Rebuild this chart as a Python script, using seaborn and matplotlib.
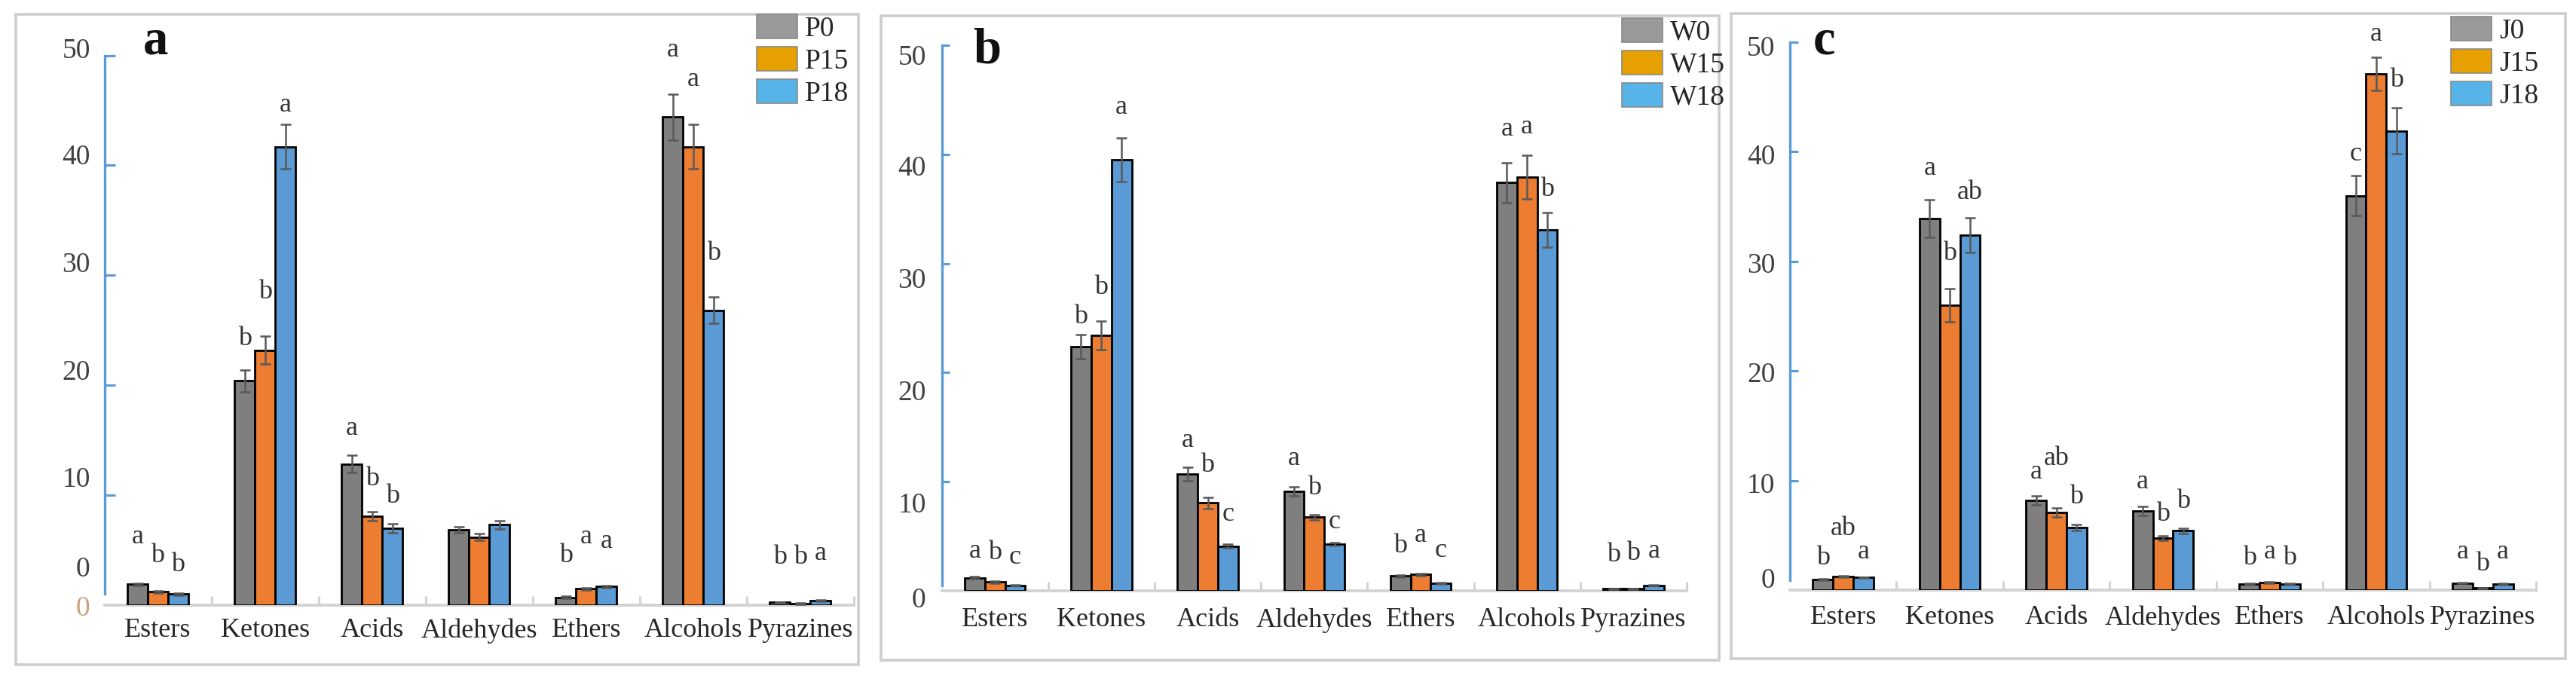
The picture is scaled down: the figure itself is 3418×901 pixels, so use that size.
import matplotlib
matplotlib.use("Agg")
import numpy as np
import pandas as pd
import seaborn as sns
import matplotlib.pyplot as plt
from matplotlib.patches import Patch, Rectangle
from matplotlib.transforms import offset_copy

# ---------------- data ----------------
categories = ["Esters", "Ketones", "Acids", "Aldehydes", "Ethers", "Alcohols", "Pyrazines"]

groups_a = ["P0", "P15", "P18"]
a_0 = [1.9, 20.4, 12.85, 6.85, 0.7, 44.4, 0.25]
a_15 = [1.2, 23.2, 8.1, 6.2, 1.5, 41.7, 0.15]
a_18 = [1.0, 41.7, 7.0, 7.3, 1.7, 26.8, 0.4]
a_0_err = [0.1, 1.0, 0.8, 0.3, 0.1, 2.1, 0.05]
a_15_err = [0.1, 1.3, 0.4, 0.3, 0.1, 2.0, 0.05]
a_18_err = [0.1, 2.0, 0.4, 0.4, 0.1, 1.2, 0.05]
a_0_sig = ["a", "b", "a", "", "b", "a", "b"]
a_15_sig = ["b", "b", "b", "", "a", "a", "b"]
a_18_sig = ["b", "a", "b", "", "a", "b", "a"]
a_0_sig_y = [6.2, 24.2, 16.1, 0, 4.5, 50.5, 4.35]
a_15_sig_y = [4.5, 28.5, 11.5, 0, 6.2, 47.8, 4.35]
a_18_sig_y = [3.7, 45.5, 9.9, 0, 5.8, 32.0, 4.7]
a_ytick_labels = ["50", "40", "30", "20", "10", "0", "0"]
a_ytick_at = [50.7, 41.0, 31.2, 21.4, 11.7, 3.5, -0.07]

groups_b = ["W0", "W15", "W18"]
b_0 = [1.2, 22.4, 10.7, 9.1, 1.35, 37.4, 0.2]
b_15 = [0.8, 23.4, 8.05, 6.75, 1.5, 37.9, 0.2]
b_18 = [0.5, 39.5, 4.1, 4.3, 0.7, 33.1, 0.5]
b_0_err = [0.1, 1.1, 0.6, 0.4, 0.1, 1.8, 0.03]
b_15_err = [0.1, 1.3, 0.5, 0.25, 0.1, 2.0, 0.03]
b_18_err = [0.05, 2.0, 0.15, 0.15, 0.05, 1.6, 0.05]
b_0_sig = ["a", "b", "a", "a", "b", "a", "b"]
b_15_sig = ["b", "b", "b", "b", "a", "a", "b"]
b_18_sig = ["c", "a", "c", "c", "c", "b", "a"]
b_0_sig_y = [3.6, 25.1, 13.8, 12.1, 4.1, 42.3, 3.25]
b_15_sig_y = [3.5, 27.8, 11.5, 9.4, 5.1, 42.5, 3.45]
b_18_sig_y = [3.05, 44.3, 7.0, 6.3, 3.7, 36.8, 3.6]
b_ytick_labels = ["50", "40", "30", "20", "10", "0"]
b_ytick_at = [49.1, 39.0, 28.7, 18.4, 8.1, -0.6]

groups_c = ["J0", "J15", "J18"]
c_0 = [0.95, 33.9, 8.2, 7.2, 0.55, 36.0, 0.65]
c_15 = [1.25, 26.0, 7.1, 4.75, 0.7, 47.1, 0.2]
c_18 = [1.15, 32.4, 5.7, 5.4, 0.55, 41.9, 0.55]
c_0_err = [0.05, 1.7, 0.4, 0.4, 0.05, 1.8, 0.05]
c_15_err = [0.05, 1.5, 0.4, 0.2, 0.05, 1.5, 0.03]
c_18_err = [0.05, 1.6, 0.25, 0.25, 0.05, 2.1, 0.05]
c_0_sig = ["b", "a", "a", "a", "b", "c", "a"]
c_15_sig = ["ab", "b", "ab", "b", "a", "a", "b"]
c_18_sig = ["a", "ab", "b", "b", "b", "b", "a"]
c_0_sig_y = [2.95, 38.5, 10.75, 9.9, 2.95, 39.8, 3.5]
c_15_sig_y = [5.6, 30.7, 12.0, 6.9, 3.45, 50.75, 2.4]
c_18_sig_y = [3.45, 36.3, 8.5, 8.1, 2.95, 46.5, 3.5]
c_ytick_labels = ["50", "40", "30", "20", "10", "0"]
c_ytick_at = [49.7, 39.8, 29.9, 19.9, 9.8, 1.1]

# ---------------- style ----------------
W, H = 3418, 901
sns.set_theme(style="white")
plt.rcParams["font.family"] = ["Liberation Serif", "DejaVu Serif"]

bar_colors = ["#7F7F7F", "#ED7D31", "#5B9BD5"]
legend_colors = ["#9A9A9A", "#E6A000", "#56B4E9"]
axis_blue = "#5B9BD5"
grid_grey = "#D3D3D3"
text_col = "#262626"
FS = 27
XFS = 26

fig = plt.figure(figsize=(W / 100, H / 100), dpi=100)
fig.patch.set_facecolor("white")


def px_rect(left, top, right, bottom):
    return [left / W, 1 - bottom / H, (right - left) / W, (bottom - top) / H]


panels = [
    dict(groups=groups_a, vals=[a_0, a_15, a_18], errs=[a_0_err, a_15_err, a_18_err],
         sig=[a_0_sig, a_15_sig, a_18_sig], sig_y=[a_0_sig_y, a_15_sig_y, a_18_sig_y],
         ylab=a_ytick_labels, ylab_at=a_ytick_at, ylab_pad=13.5,
         rect=(138.5, 73.5, 1133, 803), frame=(21, 19, 1139, 882),
         letter="a", letter_xy=(207, 71), legend_xy=(1004, 19), xpad=12.5,
         ytick_len=10, spine_low=1.0),
    dict(groups=groups_b, vals=[b_0, b_15, b_18], errs=[b_0_err, b_15_err, b_18_err],
         sig=[b_0_sig, b_15_sig, b_18_sig], sig_y=[b_0_sig_y, b_15_sig_y, b_18_sig_y],
         ylab=b_ytick_labels, ylab_at=b_ytick_at, ylab_pad=15,
         rect=(1249.5, 60, 2238, 784), frame=(1169, 21, 2281, 876),
         letter="b", letter_xy=(1310, 83), legend_xy=(2152, 24), xpad=16,
         ytick_len=7.5, spine_low=0.5),
    dict(groups=groups_c, vals=[c_0, c_15, c_18], errs=[c_0_err, c_15_err, c_18_err],
         sig=[c_0_sig, c_15_sig, c_18_sig], sig_y=[c_0_sig_y, c_15_sig_y, c_18_sig_y],
         ylab=c_ytick_labels, ylab_at=c_ytick_at, ylab_pad=14,
         rect=(2375, 56, 3365, 783), frame=(2297, 18, 3404, 874),
         letter="c", letter_xy=(2420, 72), legend_xy=(3252, 22), xpad=14.5,
         ytick_len=8, spine_low=0.9),
]

for p in panels:
    # outer frame
    fl, ft, fr, fb = p["frame"]
    fig.add_artist(Rectangle((fl / W, 1 - fb / H), (fr - fl) / W, (fb - ft) / H,
                             transform=fig.transFigure, fill=False,
                             edgecolor="#CDCDCD", linewidth=2.6, zorder=0))

    ax = fig.add_axes(px_rect(*p["rect"]))
    ax.set_facecolor("none")
    g = p["groups"]
    df = pd.DataFrame({
        "Category": categories * 3,
        "Value": p["vals"][0] + p["vals"][1] + p["vals"][2],
        "Group": [g[0]] * 7 + [g[1]] * 7 + [g[2]] * 7,
    })
    sns.barplot(data=df, x="Category", y="Value", hue="Group", order=categories,
                hue_order=g, palette=bar_colors, saturation=1, width=0.57,
                edgecolor="black", linewidth=2.0, errorbar=None, legend=False, ax=ax)

    bar_containers = list(ax.containers)
    # error bars + significance letters, positioned from the library's bars
    for j, cont in enumerate(bar_containers):
        for i, bar in enumerate(cont.patches):
            xc = bar.get_x() + bar.get_width() / 2
            h = bar.get_height()
            ax.errorbar(xc, h, yerr=p["errs"][j][i], fmt="none", ecolor="#595959",
                        elinewidth=1.8, capsize=5, capthick=1.8, zorder=5)
            s = p["sig"][j][i]
            if s:
                ax.text(xc, p["sig_y"][j][i], s, ha="center", va="center",
                        fontsize=26, color="#333333", zorder=6)

    ax.set_xlim(-0.5, 6.5)
    ax.set_ylim(0, 50)
    ax.set_xlabel("")
    ax.set_ylabel("")

    for side in ("top", "right"):
        ax.spines[side].set_visible(False)
    ax.spines["left"].set_color(axis_blue)
    ax.spines["left"].set_linewidth(2.4)
    ax.spines["left"].set_bounds(p["spine_low"], 50)
    ax.spines["bottom"].set_color(grid_grey)
    ax.spines["bottom"].set_linewidth(2.8)
    ax.spines["bottom"].set_zorder(0.5)

    # y ticks: marks on the axis, labels as text (as drawn in the original)
    ax.set_yticks([10, 20, 30, 40, 50])
    ax.set_yticklabels([])
    ax.tick_params(axis="y", which="major", left=True, direction="in",
                   length=p["ytick_len"], width=2.2, color=axis_blue)
    trans = offset_copy(ax.get_yaxis_transform(), fig=fig, x=-p["ylab_pad"], y=-3,
                        units="points")
    for k, (lab, yv) in enumerate(zip(p["ylab"], p["ylab_at"])):
        col = "#404040"
        if p["letter"] == "a" and k == len(p["ylab"]) - 1:
            col = "#C9A27A"
        ax.text(0, yv, lab, transform=trans, ha="right", va="center",
                fontsize=FS, color=col, clip_on=False)

    # x ticks
    ax.set_xticks(range(len(categories)))
    ax.set_xticklabels(categories)
    ax.set_xticks(np.arange(0.5, 7, 1), minor=True)
    ax.tick_params(axis="x", which="major", bottom=True, length=0,
                   pad=p["xpad"], labelsize=XFS, labelcolor=text_col)
    ax.tick_params(axis="x", which="minor", bottom=True, direction="in",
                   length=9, width=2.2, color=grid_grey)

    # legend
    handles = [Patch(facecolor=legend_colors[k], edgecolor="#8A8A8A", linewidth=1.2,
                     label=g[k]) for k in range(3)]
    lx, ly = p["legend_xy"]
    leg = ax.legend(handles=handles, loc="upper left",
                    bbox_to_anchor=(lx / W, 1 - ly / H), bbox_transform=fig.transFigure,
                    frameon=False, fontsize=FS, handlelength=1.45, handleheight=0.92,
                    handletextpad=0.25, labelspacing=0.17, borderpad=0, borderaxespad=0)
    for t in leg.get_texts():
        t.set_color(text_col)

    # panel letter
    lxp, lyp = p["letter_xy"]
    fig.text(lxp / W, 1 - lyp / H, p["letter"], ha="center", va="baseline",
             fontsize=48, fontweight="bold", color="#111111")

fig.savefig("out.png", dpi=100, facecolor="white")
